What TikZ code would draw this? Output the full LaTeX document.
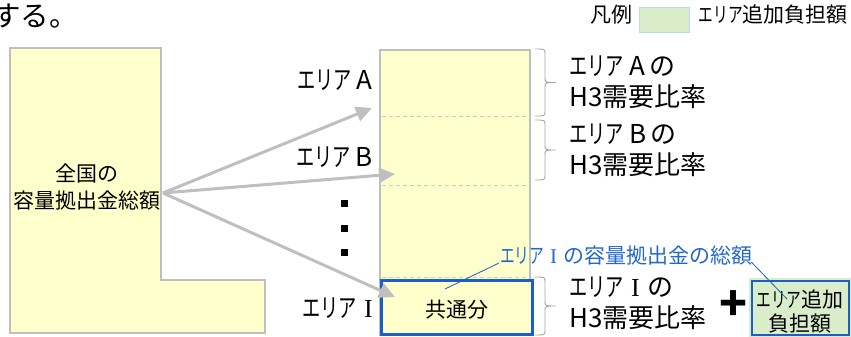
\documentclass[tikz,border=0pt]{standalone}
\usepackage{fontspec}
\setmainfont{Noto Sans CJK JP}
\newfontfamily\kanafont{Noto Sans CJK JP}[FakeStretch=0.7]
\newfontfamily\romfont{Liberation Serif}
\newcommand\RomI{\hspace{0.28em}{\romfont I}\hspace{0.28em}}
\newcommand\Eria{{\kanafont エリア}}
\usetikzlibrary{arrows.meta}
\definecolor{lyellow}{HTML}{FFFFCC}
\definecolor{boxgray}{HTML}{BFBFBF}
\definecolor{bracegray}{HTML}{A6A6A6}
\definecolor{boxblue}{HTML}{1B5FC4}
\definecolor{textblue}{HTML}{2468CC}
\definecolor{lgreen}{HTML}{DAEDCB}
\definecolor{legblue}{HTML}{BDD7EE}
\tikzset{
  graybox/.style={draw=boxgray, line width=2.5pt, fill=lyellow},
  arr/.style={draw=boxgray, line width=3pt, -{Triangle[length=16pt,width=15pt,fill=boxgray]}},
  divider/.style={draw=boxgray!80, line width=0.7pt, dash pattern=on 4pt off 3pt},
  brc/.style={draw=bracegray, line width=0.9pt},
  lbl/.style={inner sep=0pt, font=\fontsize{26}{31}\selectfont},
  mid/.style={inner sep=0pt, font=\fontsize{21}{27}\selectfont},
  small/.style={inner sep=0pt, font=\fontsize{21}{24}\selectfont},
  leader/.style={draw=boxblue, line width=0.8pt},
  dotsq/.style={fill=black, minimum size=7pt, inner sep=0pt},
}
\begin{document}
\begin{tikzpicture}[x=1pt,y=-1pt]
\useasboundingbox (0,0) rectangle (851,337);

% top partial sentence (cut at the left edge as in the source)
\node[inner sep=0pt, anchor=base west, font=\fontsize{28.5}{32}\selectfont] (top) at (-8,27) {する。};

% legend
\node[small] (legend) at (611,15) {凡例};
\node[draw=legblue, line width=1.5pt, fill=lgreen, minimum width=50pt, minimum height=25pt, inner sep=0pt] (swatch) at (664.5,20) {};
\node[small, anchor=east] (legtxt) at (848,15) {\Eria 追加負担額};

% L-shaped national total
\draw[graybox] (10,48) -- (161,48) -- (161,280) -- (265,280) -- (265,333) -- (10,333) -- cycle;
\node[mid, align=center] (zenkoku) at (87,187) {全国の\\容量拠出金総額};
\coordinate (src) at (163,193);

% right column
\draw[graybox] (380,50) rectangle (530,335);
\coordinate (d1l) at (382,116); \coordinate (d1r) at (528,116);
\coordinate (d2l) at (382,185); \coordinate (d2r) at (528,185);
\coordinate (d3l) at (382,277); \coordinate (d3r) at (528,277);
\draw[divider] (d1l) -- (d1r);
\draw[divider] (d2l) -- (d2r);
\draw[divider] (d3l) -- (d3r);
\node[draw=boxblue, line width=2.5pt, fill=lyellow, minimum width=151pt, minimum height=54pt, inner sep=0pt] (common) at (457,307.5) {};
\node[mid] (commontxt) at (457,310) {共通分};

% area labels
\node[lbl, anchor=east] (la) at (373,80) {\Eria\kern5pt A};
\node[lbl, anchor=east] (lb) at (373,157) {\Eria\kern5pt B};
\node[lbl, anchor=east] (li) at (373,308) {\Eria\RomI};

% dots
\node[dotsq] (dot1) at (344,203) {};
\node[dotsq] (dot2) at (344,228) {};
\node[dotsq] (dot3) at (344,252) {};

% arrows
\coordinate (ta) at (372,108);
\coordinate (tb) at (395,174);
\coordinate (ti) at (395,297);
\draw[arr] (src) -- (ta);
\draw[arr] (src) -- (tb);
\draw[arr] (src) -- (ti);

% braces
\foreach \ya/\yb in {49/116, 120/180, 277/335}{
  \pgfmathsetmacro{\ym}{(\ya+\yb)/2}
  \draw[brc] (535,\ya) .. controls (545,\ya) .. (545,\ya+5) -- (545,\ym-5)
     .. controls (545,\ym) .. (556,\ym) .. controls (545,\ym) .. (545,\ym+5)
     -- (545,\yb-5) .. controls (545,\yb) .. (535,\yb);
}

% ratio labels
\node[lbl, anchor=west, align=left] (ra) at (569,82) {\Eria\kern6pt A\kern4pt の\\H3需要比率};
\node[lbl, anchor=west, align=left] (rb) at (569,150) {\Eria\kern6pt B\kern4pt の\\H3需要比率};
\node[lbl, anchor=west, align=left] (ri) at (569,303) {\Eria\RomI の\\H3需要比率};

% plus
\node[inner sep=0pt, font=\fontsize{46}{46}\selectfont\bfseries] (plus) at (733,306) {+};

% additional burden box
\fill[lgreen] (749,278) rectangle (851,337);
\node[draw=boxblue, line width=2.5pt, fill=lgreen, minimum width=97pt, minimum height=54pt, inner sep=0pt] (addbox) at (800.5,308) {};
\node[small, align=center] (addtxt) at (800,312) {\Eria 追加\\負担額};

% blue callout
\node[small, text=textblue, anchor=west] (blab) at (500,256) {\Eria\RomI の容量拠出金の総額};
\coordinate (k1) at (445,289);
\coordinate (k2) at (787,299);
\draw[leader] ([xshift=-1pt,yshift=-7pt]blab.west) -- (k1);
\draw[leader] ([xshift=-1pt,yshift=-6pt]blab.east) -- (k2);
\end{tikzpicture}
\end{document}
